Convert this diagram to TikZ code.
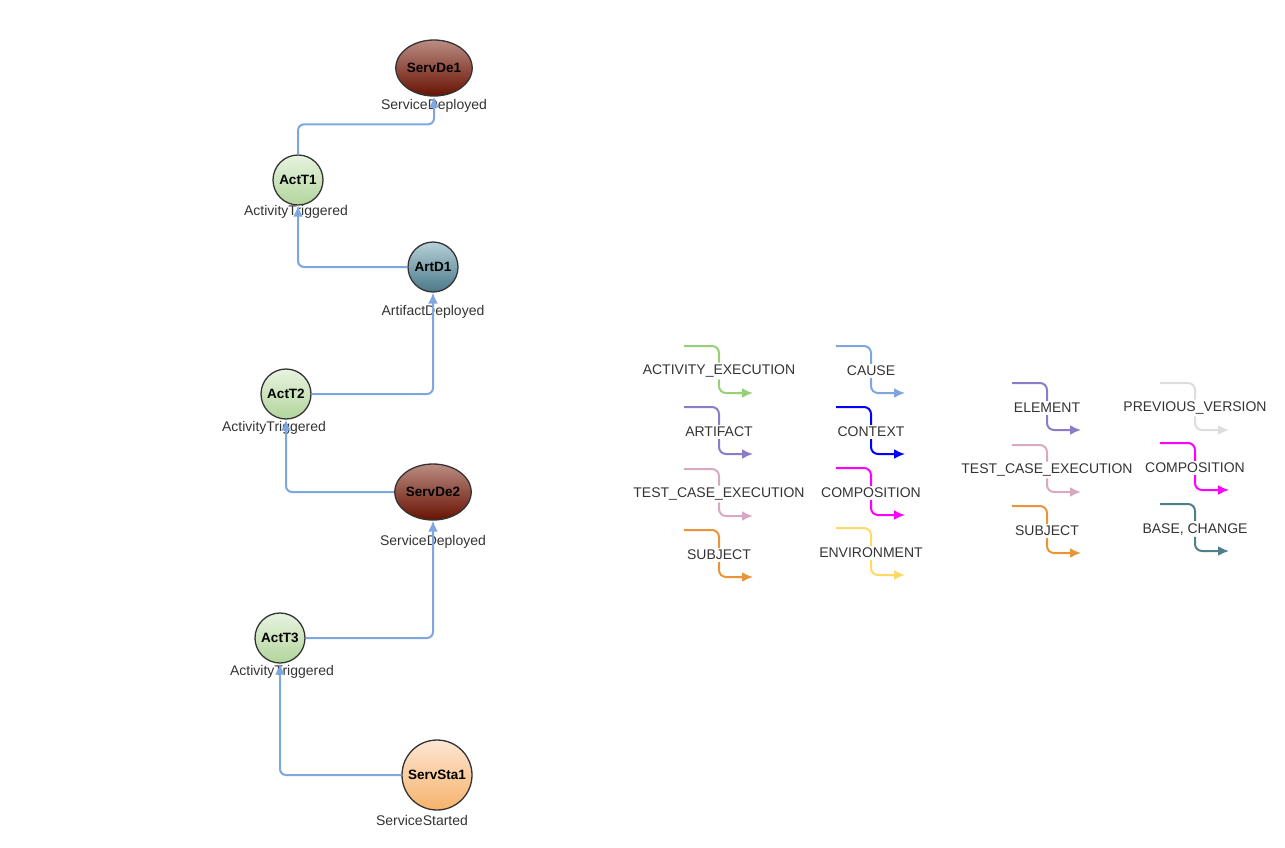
\documentclass[tikz,border=0pt]{standalone}
\usepackage{fontspec}
\setmainfont{Liberation Sans}
\usetikzlibrary{shapes.geometric,arrows.meta}
\definecolor{flowblue}{HTML}{7EA6E0}
\definecolor{cAE}{HTML}{97D077}
\definecolor{cAR}{HTML}{8C7CC8}
\definecolor{cTC}{HTML}{D9A9C2}
\definecolor{cSU}{HTML}{EA943A}
\definecolor{cCA}{HTML}{7EA6E0}
\definecolor{cCT}{HTML}{0000FF}
\definecolor{cCO}{HTML}{FF00FF}
\definecolor{cEN}{HTML}{FFD966}
\definecolor{cPV}{HTML}{DDDDDD}
\definecolor{cBC}{HTML}{4D8088}
\definecolor{txt}{HTML}{333333}
\begin{document}
\begin{tikzpicture}[x=1pt,y=-1pt,
  event/.style={circle, draw=txt, line width=1.3pt, minimum size=50pt, inner sep=0pt,
    font=\fontsize{13.5}{15}\selectfont\bfseries},
  triggered/.style={event, top color={rgb,255:red,232;green,243;blue,224}, bottom color={rgb,255:red,178;green,213;blue,156}},
  deployed/.style={event, ellipse, minimum width=70pt, minimum height=56pt,
    top color={rgb,255:red,186;green,140;blue,130}, bottom color={rgb,255:red,104;green,18;blue,2}},
  artifact/.style={event, top color={rgb,255:red,182;green,208;blue,216}, bottom color={rgb,255:red,74;green,120;blue,136}},
  started/.style={event, minimum size=70pt, top color={rgb,255:red,253;green,230;blue,212}, bottom color={rgb,255:red,246;green,178;blue,107}},
  type/.style={font=\fontsize{14}{16}\selectfont, text=txt},
  flow/.style={-{Latex[length=11pt,width=10pt]}, draw=flowblue, line width=2pt, rounded corners=6pt},
  leglabel/.style={font=\fontsize{14}{16}\selectfont, text=txt, inner sep=2pt},
  leg/.style={line width=2pt, rounded corners=7pt},
]
\useasboundingbox (0,0) rectangle (1285,847);

% evenements
\node[deployed] (ServDe1) at (434,68) {ServDe1};
\node[triggered] (ActT1) at (298,180) {ActT1};
\node[artifact] (ArtD1) at (433,267) {ArtD1};
\node[triggered] (ActT2) at (286,394) {ActT2};
\node[deployed] (ServDe2) at (433,492) {ServDe2};
\node[triggered] (ActT3) at (280,638) {ActT3};
\node[started] (ServSta1) at (437,775) {ServSta1};

\node[type] (ServDe1t) at (434,106) {ServiceDeployed};
\node[type] (ActT1t) at (296,212) {ActivityTriggered};
\node[type] (ArtD1t) at (433,312) {ArtifactDeployed};
\node[type] (ActT2t) at (274,428) {ActivityTriggered};
\node[type] (ServDe2t) at (433,542) {ServiceDeployed};
\node[type] (ActT3t) at (282,672) {ActivityTriggered};
\node[type] (ServSta1t) at (422,820) {ServiceStarted};

\draw[flow] (ActT1.north) -- ++(0,-30) -| (ServDe1.south);
\draw[flow] (ArtD1) -| (ActT1);
\draw[flow] (ActT2) -| (ArtD1);
\draw[flow] (ServDe2) -| (ActT2);
\draw[flow] (ActT3) -| (ServDe2);
\draw[flow] (ServSta1) -| (ActT3);

% legende
\foreach \n/\x/\y/\c/\t in {ae/719/371/cAE/ACTIVITY\_EXECUTION, ar/719/432/cAR/ARTIFACT,
    tc/719/494/cTC/TEST\_CASE\_EXECUTION, su/719/555/cSU/SUBJECT,
    ca/871/371/cCA/CAUSE, ct/871/432/cCT/CONTEXT, co/871/493/cCO/COMPOSITION, en/871/553/cEN/ENVIRONMENT,
    el/1047/408/cAR/ELEMENT, tc2/1047/470/cTC/TEST\_CASE\_EXECUTION, su2/1047/531/cSU/SUBJECT,
    pv/1195/408/cPV/PREVIOUS\_VERSION, co2/1195/468/cCO/COMPOSITION, bc/1195/529/cBC/{BASE, CHANGE}}{
  \node[leglabel] (l\n) at (\x,\y) {\t};
  \coordinate (s\n) at ([shift={(-35,-25)}]l\n.center);
  \coordinate (e\n) at ([shift={(34,22)}]l\n.center);
  \draw[leg, draw=\c] (s\n) -| (l\n.north);
  \draw[leg, draw=\c, -{Latex[length=11pt,width=10pt]}] (l\n.south) |- (e\n);
}
\end{tikzpicture}
\end{document}
